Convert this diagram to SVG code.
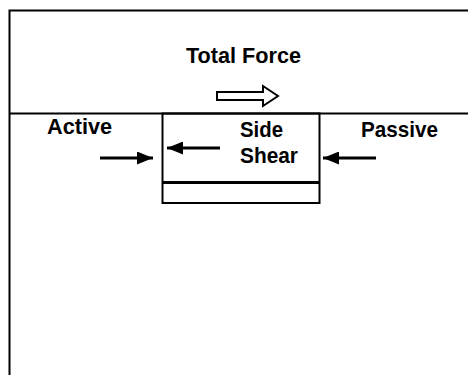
<svg xmlns="http://www.w3.org/2000/svg" width="468" height="375" viewBox="0 0 468 375">
<style>
.ln{stroke:#000;stroke-width:2;fill:none}
.t{font-family:"Liberation Sans",Arial,sans-serif;font-weight:bold;font-size:22px;fill:#000}
.ar{stroke:#000;stroke-width:3;fill:none;marker-end:url(#head)}
</style>
<defs>
<marker id="head" markerUnits="userSpaceOnUse" markerWidth="16" markerHeight="13" refX="16" refY="6.5" orient="auto">
<path d="M0,0 L16,6.5 L0,13 z" fill="#000"/>
</marker>
</defs>
<rect width="468" height="375" fill="#fff"/>
<g id="frame">
<path class="ln" d="M9.5,375 V10.5 H468"/>
<path class="ln" d="M9,113.5 H468"/>
</g>
<g id="total-force">
<text class="t" x="186" y="63" textLength="115" lengthAdjust="spacingAndGlyphs">Total Force</text>
<polygon points="217,92 263,92 263,86 278,96 263,106 263,100 217,100" fill="#fff" stroke="#000" stroke-width="2"/>
</g>
<g id="footing">
<rect class="ln" x="162.5" y="113.5" width="157" height="89.5"/>
<line x1="162" y1="182.5" x2="320" y2="182.5" stroke="#000" stroke-width="3"/>
</g>
<g id="active">
<text class="t" x="47" y="134" textLength="65" lengthAdjust="spacingAndGlyphs">Active</text>
</g>
<g id="side-shear">
<text class="t" x="240" y="137" textLength="43" lengthAdjust="spacingAndGlyphs">Side</text>
<text class="t" x="240" y="163" textLength="58" lengthAdjust="spacingAndGlyphs">Shear</text>
</g>
<g id="passive">
<text class="t" x="361" y="137" textLength="77" lengthAdjust="spacingAndGlyphs">Passive</text>
</g>
<g id="connectors">
<line class="ar" x1="100" y1="158" x2="153" y2="158"/>
<line class="ar" x1="220" y1="148" x2="167" y2="148"/>
<line class="ar" x1="376" y1="158" x2="323" y2="158"/>
</g>
</svg>
